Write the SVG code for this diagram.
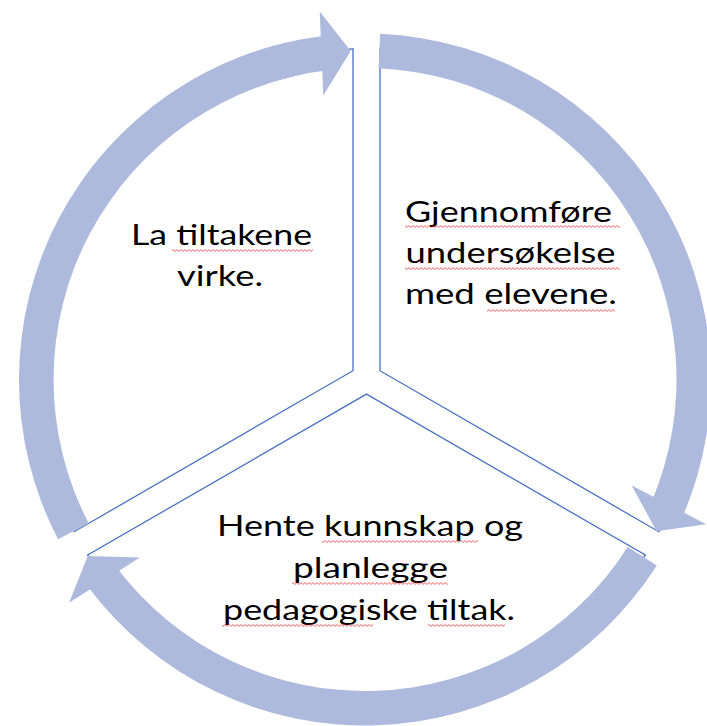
<svg xmlns="http://www.w3.org/2000/svg" width="707" height="726" viewBox="0 0 707 726">
  <style>
    .sector { fill: #ffffff; stroke: #4a72c0; stroke-width: 1.3; stroke-linejoin: miter; }
    .band { fill: #aebadd; stroke: none; }
    .lbl { font-family: Lato, "Noto Sans", "Liberation Sans", sans-serif; font-size: 29px; fill: #000000; }
    .sq { fill: url(#sq); }
  </style>
  <defs>
    <pattern id="sq" width="4" height="3" patternUnits="userSpaceOnUse">
      <path d="M-1 2.5 L1 0.5 L3 2.5 L5 0.5" fill="none" stroke="#e8312f" stroke-width="0.8"/>
    </pattern>
  </defs>
  <rect width="707" height="726" fill="#ffffff"/>

  <g id="node-la-tiltakene">
    <path class="sector" d="M353 48.8 L353 370.7 L74.2 531.7 A330 330 0 0 1 353 48.8 Z"/>
    <text class="lbl" x="131" y="245" textLength="181" lengthAdjust="spacingAndGlyphs">La tiltakene</text>
    <text class="lbl" x="177" y="286" textLength="86" lengthAdjust="spacingAndGlyphs">virke.</text>
    <rect class="sq" x="172" y="249" width="141" height="3"/>
  </g>

  <g id="node-gjennomfore">
    <path class="sector" d="M380 370.7 L380 48.8 A330 330 0 0 1 658.8 531.7 Z"/>
    <text class="lbl" x="405" y="222" textLength="207" lengthAdjust="spacingAndGlyphs">Gjennomføre</text>
    <text class="lbl" x="405.5" y="263" textLength="210" lengthAdjust="spacingAndGlyphs">undersøkelse</text>
    <text class="lbl" x="405" y="304" textLength="212" lengthAdjust="spacingAndGlyphs">med elevene.</text>
    <rect class="sq" x="405" y="225" width="215" height="3"/>
    <rect class="sq" x="405" y="267" width="215" height="3"/>
    <rect class="sq" x="487" y="309" width="128" height="3"/>
  </g>

  <g id="node-hente-kunnskap">
    <path class="sector" d="M366.5 394.1 L645.3 555.05 A330 330 0 0 1 87.7 555.05 Z"/>
    <text class="lbl" x="217" y="536" textLength="306" lengthAdjust="spacingAndGlyphs">Hente kunnskap og</text>
    <text class="lbl" x="293" y="578" textLength="155" lengthAdjust="spacingAndGlyphs">planlegge</text>
    <text class="lbl" x="223" y="620" textLength="292" lengthAdjust="spacingAndGlyphs">pedagogiske tiltak.</text>
    <rect class="sq" x="322" y="540" width="156" height="3"/>
    <rect class="sq" x="292" y="582" width="156" height="3"/>
    <rect class="sq" x="222" y="624" width="151" height="3"/>
    <rect class="sq" x="428" y="624" width="77" height="3"/>
  </g>

  <g id="connectors">
    <path class="band" d="M58.1 539.3 A346 346 0 0 1 325.2 35.8 L329.2 70.1 A311.5 311.5 0 0 0 88.7 523.3 Z"/>
    <path class="band" d="M319.7 11.6 L350.7 51.1 L323.3 95.6 Z"/>
    <path class="band" d="M380.1 33.8 A346 346 0 0 1 682.5 516.9 L650.9 503.2 A311.5 311.5 0 0 0 378.6 68.3 Z"/>
    <path class="band" d="M706.2 524.2 L656.6 531.3 L631.7 485.4 Z"/>
    <path class="band" d="M656.8 565.4 A346 346 0 0 1 87.2 585.8 L114.9 565.2 A311.5 311.5 0 0 0 627.7 546.9 Z"/>
    <path class="band" d="M69.1 602.7 L87.7 556.1 L139.9 557.5 Z"/>
  </g>
</svg>
